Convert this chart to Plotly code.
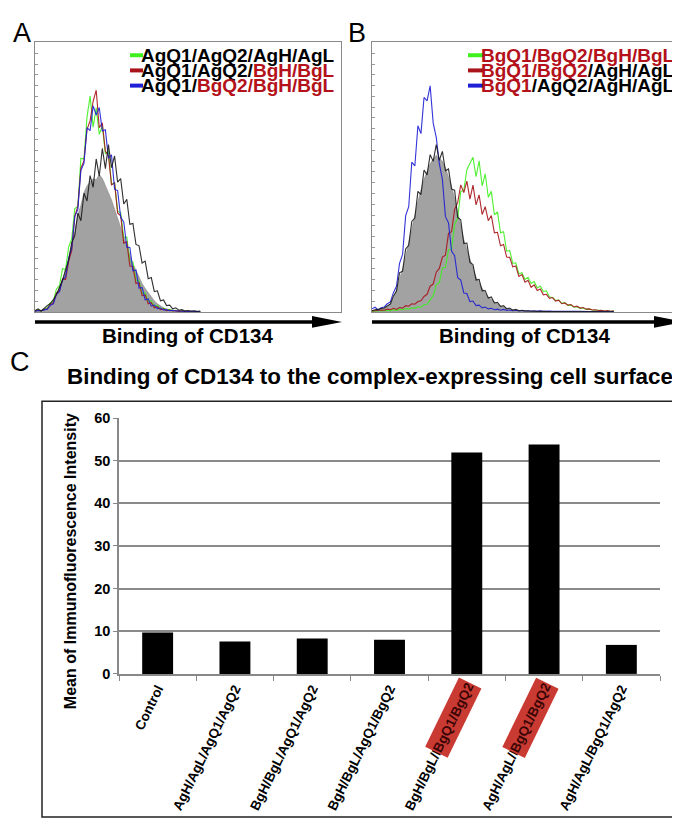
import plotly.graph_objects as go

W, H = 680, 820
FONT = "Liberation Sans, Arial, sans-serif"
RED_TXT = "#b3121a"
GREEN = "#3ef01e"
DRED = "#a8141a"
BLUE = "#1f1fd6"
GRAYFILL = "#a2a2a2"

# ---------------- Panel A histogram counts (arbitrary units, 1 bin per unit) -------------
A_gray = [0.4,0.3,0.6,0.8,1.5,2.4,4.1,5.8,9.2,11.8,16.3,19.6,25.2,29.7,36.1,39.6,44.4,46.8,48.3,49.5,
          49.1,51.0,49.6,47.2,44.3,41.6,38.2,34.4,30.7,27.3,23.8,21.2,17.9,15.3,12.8,10.6,8.8,7.1,5.4,4.2,
          3.1,2.3,1.6,1.2,0.9,0.7,0.5,0.4,0.3,0.3,0.2,0.3,0.2,0.2,0.2]
A_black = [0.5,1.2,0.4,1.6,2.4,3.2,4.6,6.5,9.1,11.8,15.6,19.2,25.8,28.4,36.7,33.9,44.1,41.2,50.6,46.3,
           56.8,50.4,60.7,53.2,62.1,53.6,57.9,48.2,49.5,40.1,41.8,32.6,32.9,25.1,24.6,18.2,18.9,12.4,12.8,7.6,
           7.9,4.2,4.5,2.4,2.6,1.2,1.6,0.7,0.9,0.4,0.6,0.3,0.5,0.2,0.4]
A_green = [0.5,0.9,0.4,1.2,1.6,3.4,4.2,8.6,9.8,16.1,15.8,24.2,27.1,38.4,39.2,57.1,56.8,72.4,80.1,68.6,
           75.8,65.9,69.1,58.7,59.8,47.3,48.1,37.4,36.9,27.6,27.8,18.7,18.6,11.8,11.6,6.9,7.1,3.9,4.2,2.1,
           2.5,1.2,1.5,0.8,1.0,0.5,0.7,0.3,0.5,0.2,0.4,0.2,0.3,0.1,0.2]
A_red = [0.4,0.7,0.4,1.0,1.2,2.8,3.4,7.1,7.9,12.4,12.1,19.0,22.8,35.6,39.2,53.4,56.1,67.8,70.9,78.2,
         82.3,68.4,70.2,59.6,58.1,47.2,47.9,36.8,35.7,25.6,26.1,17.1,16.9,10.6,10.9,6.1,6.4,3.1,3.5,1.6,
         2.0,0.9,1.2,0.5,0.8,0.4,0.6,0.2,0.4,0.2,0.3,0.1,0.3,0.1,0.2]
A_blue = [0.3,0.6,0.5,0.9,1.1,2.5,3.1,6.6,7.6,11.9,13.1,20.1,23.7,35.4,38.1,52.6,55.2,68.4,67.3,76.5,
          73.1,75.9,67.2,67.6,57.1,58.3,45.6,45.1,35.2,33.4,24.1,24.0,15.3,15.6,8.9,9.1,4.6,4.9,2.2,2.6,
          1.3,1.5,0.8,0.9,0.5,0.7,0.4,0.5,0.3,0.4,0.2,0.4,0.2,0.3,0.2]

# ---------------- Panel B histogram counts -------------
B_gray = [0.4,0.6,0.9,1.1,1.4,1.9,2.9,4.8,8.0,12.4,16.0,20.6,25.8,30.6,35.9,41.0,45.2,49.3,52.1,55.0,
          56.8,58.2,57.1,56.0,53.6,50.4,46.6,42.1,36.7,31.8,26.9,23.2,19.5,16.0,13.0,10.8,8.7,7.0,5.6,4.6,
          3.6,2.9,2.3,1.9,1.4,1.1,0.9,0.7,0.6,0.5,0.4,0.4,0.3,0.3,0.3,0.2,0.2,0.2,0.2,0.2,
          0.1,0.1,0.1,0.1,0.1,0.1,0.1,0.1,0.1,0.1,0.1,0.1,0.1,0.1,0.1,0.1,0.1,0.1,0.1,0.1]
B_black = [0.5,0.9,1.0,1.4,1.5,2.4,3.0,5.9,7.8,14.6,15.2,23.4,24.8,33.6,34.9,44.8,43.6,52.7,50.9,58.4,
           55.9,62.1,56.3,59.6,52.4,53.1,45.6,45.2,35.1,34.2,25.4,25.6,18.4,17.6,11.9,12.1,7.9,8.0,5.2,5.6,
           3.4,3.6,2.1,2.4,1.2,1.5,0.7,1.0,0.5,0.7,0.4,0.5,0.3,0.4,0.2,0.3,0.2,0.3,0.2,0.2,
           0.2,0.2,0.1,0.2,0.1,0.1,0.1,0.1,0.1,0.1,0.1,0.1,0.1,0.1,0.1,0.1,0.1,0.1,0.1,0.1]
B_red = [0.4,0.6,0.6,0.8,0.7,1.1,0.9,1.4,1.0,1.7,1.5,2.4,2.2,3.1,2.9,3.9,4.2,5.8,6.6,9.6,
         10.4,14.8,16.2,20.4,21.1,29.2,29.8,38.1,40.6,47.2,44.3,48.6,41.9,47.1,39.8,43.5,36.2,39.1,33.9,35.8,
         29.4,29.6,24.6,25.1,20.4,20.3,16.8,17.1,13.2,13.9,11.1,11.8,9.2,10.1,8.0,8.6,6.4,6.6,5.1,5.4,
         4.1,4.4,3.1,3.4,2.6,2.8,1.9,2.2,1.5,1.7,1.1,1.2,0.8,0.9,0.6,0.7,0.4,0.6,0.3,0.5]
B_green = [0.3,0.5,0.4,0.6,0.4,0.7,0.5,0.9,0.6,1.1,0.9,1.3,1.1,1.6,1.4,2.0,1.8,2.7,2.9,4.6,
           6.1,10.2,10.9,16.4,16.6,23.1,23.4,32.6,34.8,44.7,45.2,52.8,55.1,57.4,50.2,56.1,46.8,51.3,42.6,44.8,
           36.1,37.2,29.4,29.8,22.6,22.9,18.1,18.3,14.2,14.6,12.1,12.9,10.6,11.3,9.0,9.7,7.6,7.9,5.6,5.4,
           4.3,4.5,3.3,3.5,2.5,2.6,1.8,2.0,1.4,1.5,1.0,1.1,0.8,0.8,0.6,0.6,0.4,0.5,0.3,0.4]
B_blue = [1.2,1.8,0.8,1.6,1.9,3.1,3.8,7.2,9.6,18.1,21.4,35.8,39.1,55.6,54.2,69.1,66.2,79.6,78.3,83.9,
          70.1,64.8,55.1,49.2,35.4,33.1,22.6,20.9,12.8,11.9,7.1,6.9,3.9,4.1,2.4,2.6,1.6,1.9,1.2,1.4,
          0.9,1.1,0.7,1.0,0.6,0.8,0.5,0.7,0.4,0.6,0.5,0.4,0.5,0.4,0.4,0.5,0.3,0.4,0.4,0.3,
          0.4,0.3,0.3,0.4,0.3,0.3,0.2,0.3,0.3,0.2,0.3,0.2,0.2,0.3,0.2,0.2,0.2,0.3,0.2,0.2]

# ---------------- Panel C bar data -------------
categories = ["Control", "AgH/AgL/AgQ1/AgQ2", "BgH/BgL/AgQ1/AgQ2", "BgH/BgL/AgQ1/BgQ2",
              "BgH/BgL/BgQ1/BgQ2", "AgH/AgL/BgQ1/BgQ2", "AgH/AgL/BgQ1/AgQ2"]
mfi = [9.7, 7.6, 8.3, 8.0, 51.9, 53.8, 6.8]
highlighted = [4, 5]
yticks = [0, 10, 20, 30, 40, 50, 60]

legendA = [
    (GREEN, '<span style="color:#000">AgQ1/AgQ2/AgH/AgL</span>'),
    (DRED, '<span style="color:#000">AgQ1/AgQ2/</span><span style="color:%s">BgH/BgL</span>' % RED_TXT),
    (BLUE, '<span style="color:#000">AgQ1/</span><span style="color:%s">BgQ2/BgH/BgL</span>' % RED_TXT),
]
legendB = [
    (GREEN, '<span style="color:%s">BgQ1/BgQ2/BgH/BgL</span>' % RED_TXT),
    (DRED, '<span style="color:%s">BgQ1/BgQ2</span><span style="color:#000">/AgH/AgL</span>' % RED_TXT),
    (BLUE, '<span style="color:%s">BgQ1</span><span style="color:#000">/AgQ2/AgH/AgL</span>' % RED_TXT),
]


def px(x):
    return x / W


def py(y):
    return 1 - y / H


fig = go.Figure()


def add_hist(arr, color, xa, ya, fill=False, width=1.1):
    xs = list(range(len(arr)))
    if fill:
        fig.add_trace(go.Scatter(x=xs, y=arr, xaxis=xa, yaxis=ya, mode="lines",
                                 line=dict(color="#8c8c8c", width=0.6), fill="tozeroy",
                                 fillcolor=GRAYFILL, hoverinfo="skip", showlegend=False))
    else:
        fig.add_trace(go.Scatter(x=xs, y=arr, xaxis=xa, yaxis=ya, mode="lines",
                                 line=dict(color=color, width=width), opacity=0.9,
                                 hoverinfo="skip", showlegend=False))


# Panel A
add_hist(A_gray, None, "x", "y", fill=True)
add_hist(A_green, GREEN, "x", "y")
add_hist(A_red, DRED, "x", "y")
add_hist(A_blue, BLUE, "x", "y")
add_hist(A_black, "#1a1a1a", "x", "y")
# Panel B
add_hist(B_gray, None, "x2", "y2", fill=True)
add_hist(B_green, GREEN, "x2", "y2")
add_hist(B_red, DRED, "x2", "y2")
add_hist(B_blue, BLUE, "x2", "y2")
add_hist(B_black, "#1a1a1a", "x2", "y2")

# Panel C bars
fig.add_trace(go.Bar(x=categories, y=mfi, xaxis="x3", yaxis="y3", width=0.4,
                     marker=dict(color="#000000", line=dict(width=0)), showlegend=False,
                     hoverinfo="skip"))

hist_x = dict(range=[0, 100], showgrid=False, zeroline=False, showticklabels=False,
              showline=True, mirror=True, linecolor="#8a8a8a", linewidth=1,
              ticks="inside", ticklen=3, tickcolor="#9a9a9a", tickvals=[], fixedrange=True)
hist_y = dict(range=[0, 100], showgrid=False, zeroline=False, showticklabels=False,
              showline=True, mirror=True, linecolor="#8a8a8a", linewidth=1,
              ticks="inside", ticklen=3, tickcolor="#9a9a9a", dtick=4, fixedrange=True)

c_x0, c_x1 = 111, 652
c_ytop, c_ybot = 410, 671

fig.update_layout(
    width=W, height=H, margin=dict(l=0, r=0, t=0, b=0),
    paper_bgcolor="white", plot_bgcolor="white", showlegend=False,
    font=dict(family=FONT, color="#000"),
    xaxis=dict(domain=[px(27), px(333)], anchor="y", **hist_x),
    yaxis=dict(domain=[py(302), py(27)], anchor="x", **hist_y),
    xaxis2=dict(domain=[px(364), px(670)], anchor="y2", **hist_x),
    yaxis2=dict(domain=[py(302), py(27)], anchor="x2", **hist_y),
    xaxis3=dict(domain=[px(c_x0), px(c_x1)], anchor="y3", showline=True, linecolor="#888",
                linewidth=1.5, ticks="outside", tickson="boundaries", ticklen=5, tickcolor="#888",
                tickangle=-64, tickvals=categories, ticktext=["<b>%s</b>" % c for c in categories],
                tickfont=dict(family=FONT, size=13.5, color="#000"),
                showgrid=False, zeroline=False, fixedrange=True),
    yaxis3=dict(domain=[py(c_ybot), py(c_ytop)], anchor="x3", range=[0, 60], tickvals=yticks,
                ticktext=["<b>%d</b>" % v for v in yticks],
                showgrid=True, gridcolor="#8a8a8a", gridwidth=1.5, showline=True, linecolor="#888",
                linewidth=1.5, ticks="outside", ticklen=4, tickcolor="#888",
                tickfont=dict(family=FONT, size=14.5, color="#000"),
                zeroline=False, fixedrange=True),
)

shapes = []
# Arrows under histograms
for (x0, x1) in [(27, 334), (364, 676)]:
    shapes.append(dict(type="line", xref="paper", yref="paper", x0=px(x0), x1=px(x1 - 26),
                       y0=py(312), y1=py(312), line=dict(color="#000", width=3.5)))
    shapes.append(dict(type="path", xref="paper", yref="paper",
                       path="M %f %f L %f %f L %f %f Z" % (px(x1 - 30), py(306), px(x1), py(312),
                                                           px(x1 - 30), py(318)),
                       fillcolor="#000", line=dict(color="#000", width=0)))
# Outer box panel C
shapes.append(dict(type="rect", xref="paper", yref="paper", x0=px(34), x1=px(670), y0=py(817), y1=py(393),
                   line=dict(color="#222", width=1.5), layer="below"))
# Legend dashes
rows_y = [40, 55.5, 71]
for (lx0, lx1, leg) in [(122, 135, legendA), (460, 476, legendB)]:
    for (col, _), ry in zip(leg, rows_y):
        shapes.append(dict(type="line", xref="paper", yref="paper", x0=px(lx0), x1=px(lx1),
                           y0=py(ry), y1=py(ry), line=dict(color=col, width=4)))
fig.update_layout(shapes=shapes)

ann = []
for (tx, leg) in [(329, legendA), (669, legendB)]:
    for (_, txt), ry in zip(leg, rows_y):
        ann.append(dict(text="<b>%s</b>" % txt, x=px(tx), y=py(ry), xref="paper", yref="paper",
                        xanchor="right", yanchor="middle", showarrow=False,
                        font=dict(family=FONT, size=19)))
for cx in [179, 516]:
    ann.append(dict(text="<b>Binding of CD134</b>", x=px(cx), y=py(326), xref="paper", yref="paper",
                    xanchor="center", yanchor="middle", showarrow=False, font=dict(family=FONT, size=20.5)))
for (lx, ly, lt) in [(14, 17, "A"), (349, 17, "B"), (12, 353, "C")]:
    ann.append(dict(text=lt, x=px(lx), y=py(ly), xref="paper", yref="paper", xanchor="center",
                    yanchor="middle", showarrow=False, font=dict(family=FONT, size=27, color="#000")))
ann.append(dict(text="<b>Binding of CD134 to the complex-expressing cell surface</b>", x=px(362), y=py(368),
                xref="paper", yref="paper", xanchor="center", yanchor="middle", showarrow=False,
                font=dict(family=FONT, size=22.4, color="#000")))
ann.append(dict(text="<b>Mean of Immunofluorescence Intensity</b>", x=px(62), y=py(556), xref="paper",
                yref="paper", xanchor="center", yanchor="middle", textangle=-90, showarrow=False,
                font=dict(family=FONT, size=16, color="#000")))
# Red highlight boxes over the "BgQ1/BgQ2" parts of two tick labels
step = (c_x1 - c_x0) / len(categories)
for i in highlighted:
    cx = c_x0 + step * (i + 0.5) - 14
    ann.append(dict(text="<b>BgQ1/BgQ2</b>", x=px(cx), y=py(715.5), xref="paper", yref="paper",
                    xanchor="center", yanchor="middle", textangle=-64, showarrow=False,
                    bgcolor="#c93a33", width=74, height=22,
                    font=dict(family=FONT, size=13.5, color="#3a0505")))
fig.update_layout(annotations=ann)

fig.write_html("out.html")
